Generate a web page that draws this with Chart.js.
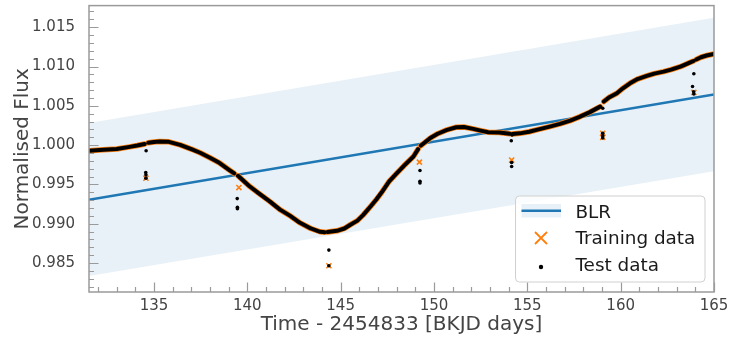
<!DOCTYPE html>
<html>
<head>
<meta charset="utf-8">
<script src="https://cdn.jsdelivr.net/npm/chart.js@4.4.1/dist/chart.umd.min.js"></script>
<style>
  html, body { margin: 0; padding: 0; background: #fff; }
  #wrap { width: 731px; height: 343px; }
</style>
</head>
<body>
<div id="wrap"><canvas id="c" width="731" height="343"></canvas></div>
<script>
// ---- data ----
// light curve (test data, with training data beneath); null = gap between segments
const curveTime = [131.52, 132.3, 133.0, 133.7, 134.1, 134.5, null,
  134.7, 135.0, 135.3, 135.8, 136.4, 137.0, 137.5, 138.0, 138.5, 139.0, 139.3, null,
  139.5, 140.1, 140.6, 141.2, 141.75, 142.3, 142.8, 143.4, 143.9, 144.15, null,
  144.3, 144.8, 145.2, 145.5, 145.9, 146.2, 146.6, 146.9, 147.2, 147.6, 148.0, 148.4, 148.9, 149.15, null,
  149.3, 149.8, 150.2, 150.7, 151.2, 151.6, 152.1, 152.5, 152.9, 153.5, 154.05, null,
  154.2, 154.6, 155.1, 155.6, 156.2, 156.75, 157.3, 157.8, 158.35, 158.9, null,
  159.1, 159.4, 159.8, 160.1, 160.5, 160.9, 161.4, 161.8, 162.3, 162.7, 163.2, 163.7, 163.9, null,
  164.05, 164.3, 164.6, 165.0];
const curveFlux = [0.99930, 0.99940, 0.99950, 0.99978, 0.99995, 1.00015, null,
  1.00030, 1.00040, 1.00046, 1.00042, 1.00004, 0.99950, 0.99900, 0.99840, 0.99775, 0.99690, 0.99640, null,
  0.99610, 0.99480, 0.99390, 0.99285, 0.99180, 0.99100, 0.99015, 0.98940, 0.98898, 0.98893, null,
  0.98895, 0.98910, 0.98940, 0.98985, 0.99040, 0.99110, 0.99220, 0.99305, 0.99400, 0.99540, 0.99640, 0.99740, 0.99855, 0.99950, null,
  0.99995, 1.00090, 1.00145, 1.00195, 1.00228, 1.00230, 1.00207, 1.00185, 1.00165, 1.00160, 1.00145, null,
  1.00143, 1.00150, 1.00170, 1.00200, 1.00236, 1.00270, 1.00312, 1.00360, 1.00420, 1.00490, null,
  1.00555, 1.00610, 1.00660, 1.00720, 1.00787, 1.00840, 1.00880, 1.00910, 1.00935, 1.00960, 1.00998, 1.01050, 1.01070, null,
  1.01090, 1.01118, 1.01140, 1.01160];

// isolated points in the gaps
const testOutTime = [134.58, 134.56, 134.57, 134.57, 139.46, 139.47, 139.47, 144.37, 144.37,
  149.25, 149.25, 149.25, 154.18, 154.14, 154.16, 154.16, 159.04, 159.04, 159.04, 159.04,
  163.92, 163.85, 163.91, 163.92];
const testOutFlux = [0.99928, 0.99652, 0.99623, 0.99580, 0.99320, 0.99210, 0.99190, 0.98665, 0.98466,
  0.99678, 0.99540, 0.99520, 1.00130, 1.00055, 0.99780, 0.99729, 1.00470, 1.00150, 1.00120, 1.00090,
  1.00908, 1.00746, 1.00680, 1.00650];
const trainOutTime = [134.57, 139.55, 144.37, 149.22, 154.16, 159.04, 159.04, 163.92];
const trainOutFlux = [0.99580, 0.99460, 0.98466, 0.99784, 0.99810, 1.00150, 1.00100, 1.00670];

// Bayesian linear regression fit (mean and band edges)
const blrTime = [131.52, 165.0];
const blrMean = [0.99306, 1.00643];
const blrUpper = [1.00282, 1.01620];
const blrLower = [0.98335, 0.99668];

// ticks
const xMajor = [135, 140, 145, 150, 155, 160, 165];
const xMinor = [132, 133, 134, 136, 137, 138, 139, 141, 142, 143, 144, 146, 147, 148, 149, 151, 152, 153, 154, 156, 157, 158, 159, 161, 162, 163, 164];
const yMajor = [0.985, 0.990, 0.995, 1.000, 1.005, 1.010, 1.015];
const yMinor = [0.982, 0.983, 0.984, 0.986, 0.987, 0.988, 0.989, 0.991, 0.992, 0.993, 0.994, 0.996, 0.997, 0.998, 0.999,
  1.001, 1.002, 1.003, 1.004, 1.006, 1.007, 1.008, 1.009, 1.011, 1.012, 1.013, 1.014, 1.016, 1.017];

const legendLabels = ['BLR', 'Training data', 'Test data'];

// ---- build ----
const pts = (xs, ys) => xs.map((x, i) => ({x: x, y: ys[i]}));
const curvePts = curveTime.map((t, i) => t === null ? {x: curveTime[i-1] + 0.01, y: null} : {x: t, y: curveFlux[i]});

const BLUE = '#1f77b4';
const ORANGE = '#ff7f0e';
const BAND = 'rgba(31,119,180,0.10)';
const SPINE = '#9a9a9a';
const TEXT = '#444444';
const FONT = "'DejaVu Sans', sans-serif";

const framePlugin = {
  id: 'frameTicks',
  afterDatasetsDraw(chart) {
    const {ctx, chartArea: a, scales: {x, y}} = chart;
    ctx.save();
    ctx.strokeStyle = SPINE;
    ctx.lineWidth = 1.2;
    ctx.beginPath();
    xMajor.forEach(v => { const p = Math.round(x.getPixelForValue(v)) + 0.5; ctx.moveTo(p, a.bottom); ctx.lineTo(p, a.bottom - 9.5); });
    xMinor.forEach(v => { const p = Math.round(x.getPixelForValue(v)) + 0.5; ctx.moveTo(p, a.bottom); ctx.lineTo(p, a.bottom - 5); });
    yMajor.forEach(v => { const p = Math.round(y.getPixelForValue(v)) + 0.5; ctx.moveTo(a.left, p); ctx.lineTo(a.left + 9.5, p); });
    yMinor.forEach(v => { const p = Math.round(y.getPixelForValue(v)) + 0.5; ctx.moveTo(a.left, p); ctx.lineTo(a.left + 5, p); });
    ctx.stroke();
    ctx.lineWidth = 1.5;
    ctx.strokeRect(a.left, a.top, a.right - a.left, a.bottom - a.top);
    ctx.restore();
  },
  afterDraw(chart) {
    const {ctx} = chart;
    ctx.save();
    // legend frame
    const bx = 515.5, by = 196, bw = 189.5, bh = 86, r = 4;
    ctx.beginPath();
    ctx.moveTo(bx + r, by);
    ctx.arcTo(bx + bw, by, bx + bw, by + bh, r);
    ctx.arcTo(bx + bw, by + bh, bx, by + bh, r);
    ctx.arcTo(bx, by + bh, bx, by, r);
    ctx.arcTo(bx, by, bx + bw, by, r);
    ctx.closePath();
    ctx.fillStyle = 'rgba(255,255,255,0.8)';
    ctx.fill();
    ctx.strokeStyle = '#d0d0d0';
    ctx.lineWidth = 1;
    ctx.stroke();
    // BLR handle
    ctx.fillStyle = BAND;
    ctx.fillRect(521.5, 204, 39.5, 13.5);
    ctx.strokeStyle = BLUE;
    ctx.lineWidth = 2.5;
    ctx.beginPath(); ctx.moveTo(521.5, 210.7); ctx.lineTo(561, 210.7); ctx.stroke();
    // training handle (x)
    ctx.strokeStyle = ORANGE;
    ctx.lineWidth = 1.8;
    ctx.beginPath();
    ctx.moveTo(535, 232); ctx.lineTo(547, 244);
    ctx.moveTo(547, 232); ctx.lineTo(535, 244);
    ctx.stroke();
    // test handle (dot)
    ctx.fillStyle = '#000';
    ctx.beginPath(); ctx.arc(541, 267, 2.2, 0, Math.PI * 2); ctx.fill();
    // labels
    ctx.fillStyle = '#1a1a1a';
    ctx.font = "18.4px " + FONT;
    ctx.textBaseline = 'alphabetic';
    ctx.textAlign = 'left';
    ctx.fillText(legendLabels[0], 575.5, 217.5);
    ctx.fillText(legendLabels[1], 575.5, 244.2);
    ctx.fillText(legendLabels[2], 575.5, 270.8);
    ctx.restore();
  }
};

new Chart(document.getElementById('c'), {
  type: 'scatter',
  data: {
    datasets: [
      { label: 'Test data', data: curvePts, showLine: true, spanGaps: false, borderColor: '#000', borderWidth: 4,
        pointRadius: 0, order: 0, borderCapStyle: 'round', borderJoinStyle: 'round' },
      { label: 'Test out', data: pts(testOutTime, testOutFlux), pointStyle: 'circle', pointRadius: 1.8,
        backgroundColor: '#000', borderColor: '#000', borderWidth: 0, order: 1 },
      { label: 'Training data', data: curvePts, showLine: true, spanGaps: false, borderColor: ORANGE, borderWidth: 5.5,
        pointRadius: 0, order: 2, borderCapStyle: 'round', borderJoinStyle: 'round' },
      { label: 'Train out', data: pts(trainOutTime, trainOutFlux), pointStyle: 'crossRot', pointRadius: 3.6,
        borderColor: ORANGE, borderWidth: 1.6, order: 3 },
      { label: 'BLR', data: pts(blrTime, blrMean), showLine: true, borderColor: BLUE, borderWidth: 2.5,
        pointRadius: 0, order: 4 },
      { label: 'upper', data: pts(blrTime, blrUpper), showLine: true, borderWidth: 0, borderColor: 'rgba(0,0,0,0)',
        pointRadius: 0, fill: {target: 6}, backgroundColor: BAND, order: 5 },
      { label: 'lower', data: pts(blrTime, blrLower), showLine: true, borderWidth: 0, borderColor: 'rgba(0,0,0,0)',
        pointRadius: 0, fill: false, order: 6 }
    ]
  },
  options: {
    responsive: false,
    animation: false,
    events: [],
    layout: { padding: { left: 0, right: 17, top: 5, bottom: 0 } },
    plugins: { legend: { display: false }, tooltip: { enabled: false } },
    scales: {
      x: {
        type: 'linear', min: 131.52, max: 165,
        grid: { display: false }, border: { display: false },
        afterBuildTicks: s => { s.ticks = xMajor.map(v => ({value: v})); },
        afterFit: s => { s.height = 51; s.paddingLeft = 0; s.paddingRight = 0; },
        ticks: { autoSkip: false, maxRotation: 0, padding: -3, color: TEXT, font: { family: FONT, size: 15 },
          callback: v => String(v) },
        title: { display: true, text: 'Time - 2454833 [BKJD days]', color: TEXT,
          font: { family: FONT, size: 20 }, padding: { top: 0, bottom: 6 } }
      },
      y: {
        type: 'linear', min: 0.98132, max: 1.01775,
        grid: { display: false }, border: { display: false },
        afterBuildTicks: s => { s.ticks = yMajor.map(v => ({value: v})); },
        afterFit: s => { s.width = 89; s.paddingTop = 0; s.paddingBottom = 0; },
        ticks: { autoSkip: false, padding: 6, color: TEXT, font: { family: FONT, size: 15 },
          callback: v => Number(v).toFixed(3) },
        title: { display: true, text: 'Normalised Flux', color: TEXT,
          font: { family: FONT, size: 20 }, padding: { top: 10.5, bottom: 0 } }
      }
    }
  },
  plugins: [framePlugin]
});
</script>
</body>
</html>
